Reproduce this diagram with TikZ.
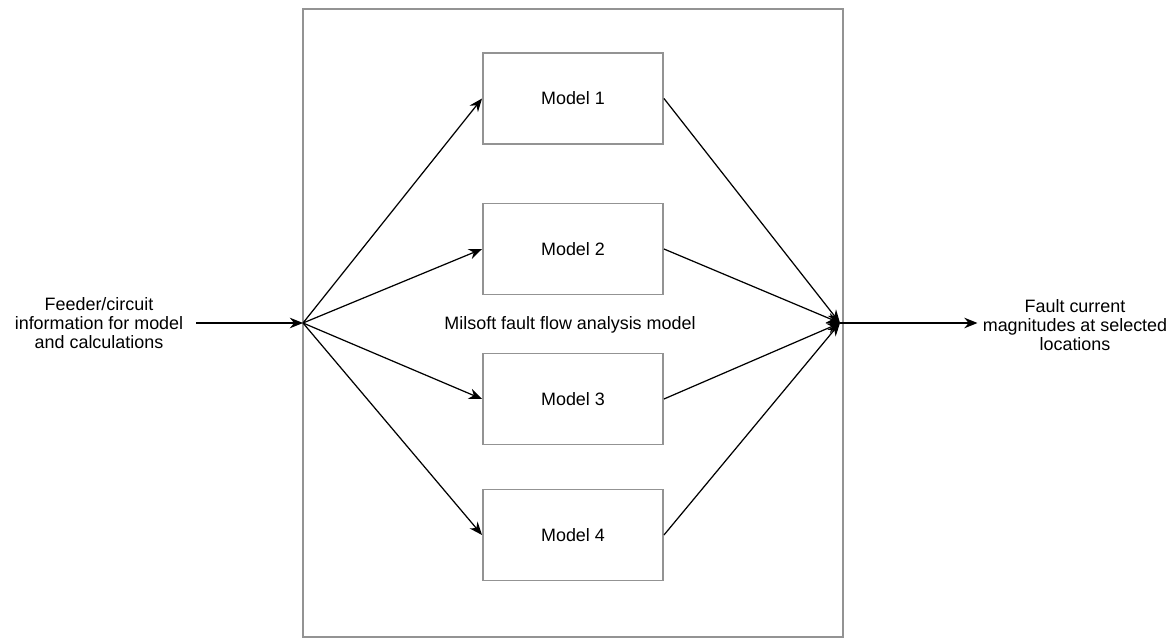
\documentclass[tikz,border=0pt]{standalone}
\usepackage{fontspec}
\setmainfont{Liberation Sans}
\usetikzlibrary{arrows.meta}

\begin{document}
\begin{tikzpicture}[
    every node/.style={font=\fontsize{10.2}{10.8}\selectfont},
    model/.style={draw=gray!85,line width=1.1pt,minimum width=3.6cm,minimum height=1.82cm},
    link/.style={draw=black,line width=0.7pt,-{Stealth[length=7.5pt,width=6pt]}}
]
    \useasboundingbox (0,0) rectangle (23.5,12.78);

    % Outer frame
    \node[draw=gray!85,line width=1.1pt,minimum width=10.8cm,minimum height=12.56cm] (frame) at (11.46,6.32) {};
    \node (label) at (11.4,6.28) {Milsoft fault flow analysis model};

    % Models - one column in the frame
    \node[model] (model1) at (11.46,10.81) {Model 1};
    \node[model] (model2) at (11.46,7.80) {Model 2};
    \node[model] (model3) at (11.46,4.80) {Model 3};
    \node[model] (model4) at (11.46,2.08) {Model 4};

    % Input and output texts
    \node[align=center,inner sep=0pt] (input) at (1.98,6.32) {Feeder/circuit\\information for model\\and calculations};
    \node[align=center,inner sep=0pt] (output) at (21.5,6.28) {Fault current\\magnitudes at selected\\locations};

    \coordinate (split) at (6.06,6.32);
    \coordinate (join) at (16.8,6.32);
    \coordinate (inputend) at ([xshift=0.25cm]input.east |- split);
    \coordinate (outputend) at ([xshift=-0.1cm]output.west |- join);

    % Connections
    \draw[link] (inputend) -- (split);
    \draw[link] (split) -- (model1.west);
    \draw[link] (split) -- (model2.west);
    \draw[link] (split) -- (model3.west);
    \draw[link] (split) -- (model4.west);
    \draw[link] (model1.east) -- (join);
    \draw[link] (model2.east) -- (join);
    \draw[link] (model3.east) -- (join);
    \draw[link] (model4.east) -- (join);
    \draw[link] (join) -- (outputend);
\end{tikzpicture}
\end{document}
